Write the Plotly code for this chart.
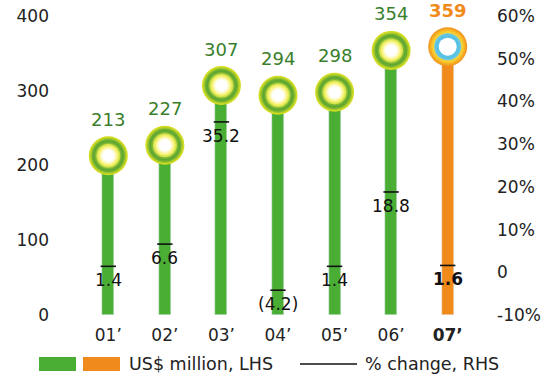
import plotly.graph_objects as go

# Data
years = ["01’", "02’", "03’", "04’", "05’", "06’", "07’"]
year_ticktext = ["01’", "02’", "03’", "04’", "05’", "06’", "<b>07’</b>"]
revenue = [213, 227, 307, 294, 298, 354, 359]          # US$ million, LHS
pct_change = [1.4, 6.6, 35.2, -4.2, 1.4, 18.8, 1.6]     # % change, RHS
left_ticks = [0, 100, 200, 300, 400]
right_ticks = [-10, 0, 10, 20, 30, 40, 50, 60]
right_ticktext = ["-10%", "0", "10%", "20%", "30%", "40%", "50%", "60%"]

GREEN = "#4aae35"
ORANGE = "#f08a1a"
FONT = "DejaVu Sans"

W, H = 546, 376
ML, MR, MT, MB = 80, 70, 16, 61

n = len(years)
bar_colors = [GREEN] * (n - 1) + [ORANGE]

fig = go.Figure()

fig.add_trace(go.Bar(
    x=years, y=revenue, marker_color=bar_colors, width=0.21,
    showlegend=False, hoverinfo="skip", yaxis="y",
))

# Concentric rings for the glowing circle markers at each bar top
ring_sizes = [39, 36, 33, 30, 27, 24, 21, 18, 15, 12]
green_rings = ["#d4dc22", "#a6ca2a", "#6eae30", "#5ea632", "#80b836",
               "#d2e24a", "#f4f06a", "#fbf6a0", "#fefbd6", "#ffffff"]
orange_rings = ["#f29a20", "#f5ae24", "#f8c42a", "#f6d238", "#6cc8e2",
                "#58c2e4", "#58c2e4", "#ffffff", "#ffffff", "#ffffff"]
for size, gc, oc in zip(ring_sizes, green_rings, orange_rings):
    fig.add_trace(go.Scatter(
        x=years, y=revenue, mode="markers",
        marker=dict(size=size, color=[gc] * (n - 1) + [oc], line=dict(width=0)),
        showlegend=False, hoverinfo="skip", yaxis="y", cliponaxis=False,
    ))

# Value labels above circles
for i, (yr, v) in enumerate(zip(years, revenue)):
    last = i == n - 1
    fig.add_annotation(
        x=yr, y=v, yref="y", text=f"<b>{v}</b>" if last else str(v),
        showarrow=False, yanchor="bottom", yshift=24,
        font=dict(family=FONT, size=18, color=ORANGE if last else "#3a7f2c"),
    )

# % change markers
fig.add_trace(go.Scatter(
    x=years, y=pct_change, mode="markers", yaxis="y2",
    marker=dict(symbol="line-ew", size=11, line=dict(width=1.6, color="#111111")),
    showlegend=False, hoverinfo="skip", cliponaxis=False,
))

# % change labels just below each marker
def fmt_pct(v):
    return f"({abs(v):.1f})" if v < 0 else f"{v:.1f}"

for i, (yr, v) in enumerate(zip(years, pct_change)):
    label = fmt_pct(v)
    if i == n - 1:
        label = f"<b>{label}</b>"
    fig.add_annotation(
        x=yr, y=v, yref="y2", text=label, showarrow=False,
        yanchor="top", yshift=-2,
        font=dict(family=FONT, size=17, color="#111111"),
    )

fig.update_layout(
    width=W, height=H,
    margin=dict(l=ML, r=MR, t=MT, b=MB),
    paper_bgcolor="white", plot_bgcolor="white",
    font=dict(family=FONT, size=17, color="#222222"),
    bargap=0,
    xaxis=dict(
        type="category", range=[-0.5, n - 0.5], showgrid=False, zeroline=False,
        showline=False, ticks="", tickvals=years, ticktext=year_ticktext,
        tickfont=dict(family=FONT, size=17, color="#222222"),
        ticklabelstandoff=8, automargin=False,
    ),
    yaxis=dict(
        range=[0, 400], tickvals=left_ticks, showgrid=False, zeroline=False,
        showline=False, ticks="", ticklabelstandoff=30, automargin=False,
        tickfont=dict(family=FONT, size=17, color="#222222"),
    ),
    yaxis2=dict(
        range=[-10, 60], overlaying="y", side="right", tickvals=right_ticks,
        ticktext=right_ticktext, showgrid=False, zeroline=False, showline=False,
        ticks="", ticklabelstandoff=20, automargin=False,
        tickfont=dict(family=FONT, size=17, color="#222222"),
    ),
    showlegend=False,
)

# Legend drawn in paper space
def px_x(px):
    return (px - ML) / (W - ML - MR)

def px_y(py):
    return (H - MB - py) / (H - MT - MB)

fig.add_shape(type="rect", xref="paper", yref="paper",
              x0=px_x(39), x1=px_x(76), y0=px_y(371), y1=px_y(357),
              fillcolor=GREEN, line_width=0)
fig.add_shape(type="rect", xref="paper", yref="paper",
              x0=px_x(83), x1=px_x(120), y0=px_y(371), y1=px_y(357),
              fillcolor=ORANGE, line_width=0)
fig.add_shape(type="line", xref="paper", yref="paper",
              x0=px_x(300), x1=px_x(357), y0=px_y(364), y1=px_y(364),
              line=dict(color="#111111", width=1.4))
fig.add_annotation(xref="paper", yref="paper", x=px_x(127), y=px_y(364),
                   xanchor="left", yanchor="middle", showarrow=False,
                   text="US$ million, LHS", font=dict(family=FONT, size=17.5, color="#222222"))
fig.add_annotation(xref="paper", yref="paper", x=px_x(363), y=px_y(364),
                   xanchor="left", yanchor="middle", showarrow=False,
                   text="% change, RHS", font=dict(family=FONT, size=17.5, color="#222222"))

fig.write_html("out.html")
